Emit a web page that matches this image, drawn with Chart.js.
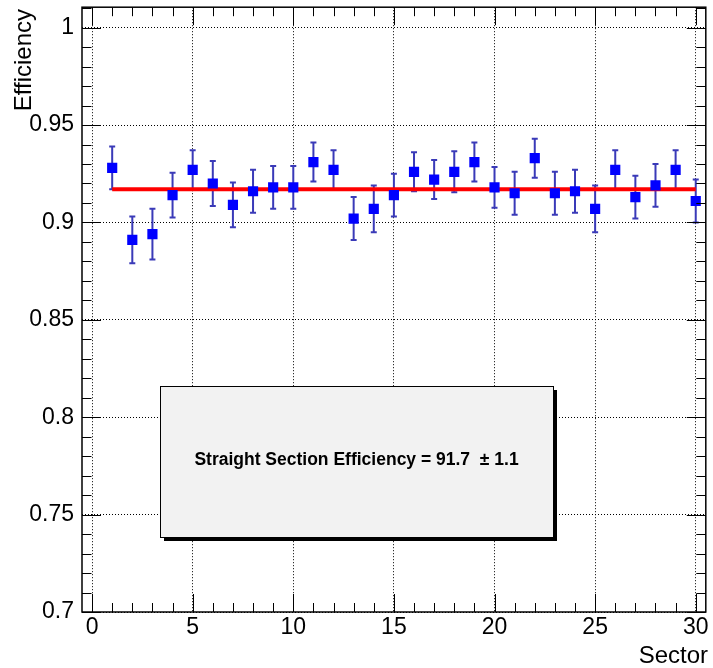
<!DOCTYPE html>
<html>
<head>
<meta charset="utf-8">
<script src="https://cdn.jsdelivr.net/npm/chart.js@4/dist/chart.umd.min.js"></script>
<style>
  body { margin: 0; background: #fff; }
  canvas { display: block; }
</style>
</head>
<body>
<canvas id="chart1" width="713" height="668"></canvas>
<script>
// data
var sectors = [1, 2, 3, 4, 5, 6, 7, 8, 9, 10, 11, 12, 13, 14, 15,
               16, 17, 18, 19, 20, 21, 22, 23, 24, 25, 26, 27, 28, 29, 30];
var efficiency = [0.928, 0.891, 0.894, 0.914, 0.927, 0.920, 0.909, 0.916, 0.918, 0.918,
                  0.931, 0.927, 0.902, 0.907, 0.914, 0.926, 0.922, 0.926, 0.931, 0.918,
                  0.915, 0.933, 0.915, 0.916, 0.907, 0.927, 0.913, 0.919, 0.927, 0.911];
var efficiencyErr = [0.011, 0.012, 0.013, 0.0115, 0.010, 0.0115, 0.0115, 0.011, 0.011, 0.011,
                     0.010, 0.010, 0.011, 0.012, 0.011, 0.010, 0.010, 0.0105, 0.010, 0.0105,
                     0.011, 0.010, 0.011, 0.011, 0.012, 0.010, 0.011, 0.011, 0.010, 0.011];
var fitRange = [1, 30];
var fitValue = 0.917;
var xTicks = [0, 5, 10, 15, 20, 25, 30];
var yTicks = [0.7, 0.75, 0.8, 0.85, 0.9, 0.95, 1];
var boxText = 'Straight Section Efficiency = 91.7  \u00b1 1.1';

var points = sectors.map(function(s, i) { return {x: s, y: efficiency[i]}; });
var fitLine = fitRange.map(function(s) { return {x: s, y: fitValue}; });

var tickFont = {family: 'Liberation Sans', size: 23};

// error bars under the markers
var errorBars = {
    id: 'errorBars',
    beforeDatasetsDraw: function(chart) {
        var ctx = chart.ctx, xs = chart.scales.x, ys = chart.scales.y;
        ctx.save();
        ctx.strokeStyle = '#3a3ab8';
        ctx.lineWidth = 2;
        points.forEach(function(p, i) {
            var px = xs.getPixelForValue(p.x);
            var top = ys.getPixelForValue(p.y + efficiencyErr[i]);
            var bot = ys.getPixelForValue(p.y - efficiencyErr[i]);
            ctx.beginPath();
            ctx.moveTo(px, top); ctx.lineTo(px, bot);
            ctx.moveTo(px - 3, top); ctx.lineTo(px + 3, top);
            ctx.moveTo(px - 3, bot); ctx.lineTo(px + 3, bot);
            ctx.stroke();
        });
        ctx.restore();
    }
};

// ROOT style frame, inside ticks, box and axis titles
var rootFrame = {
    id: 'rootFrame',
    afterDraw: function(chart) {
        var ctx = chart.ctx, a = chart.chartArea, xs = chart.scales.x, ys = chart.scales.y;
        ctx.save();

        // text box with shadow
        var bx = 160, by = 386, bw = 393, bh = 151;
        ctx.fillStyle = '#000';
        ctx.fillRect(bx + 4, by + 4, bw, bh);
        ctx.fillStyle = '#f2f2f2';
        ctx.fillRect(bx, by, bw, bh);
        ctx.strokeStyle = '#000';
        ctx.lineWidth = 1;
        ctx.strokeRect(bx + 0.5, by + 0.5, bw, bh);
        ctx.fillStyle = '#000';
        ctx.font = 'bold 17.5px "Liberation Sans"';
        ctx.textAlign = 'center';
        ctx.textBaseline = 'middle';
        ctx.fillText(boxText, bx + bw / 2, by + bh / 2 - 1);

        // ticks
        ctx.strokeStyle = '#000';
        ctx.lineWidth = 1;
        ctx.beginPath();
        for (var i = 0; i <= 30; i++) {
            var px = Math.round(xs.getPixelForValue(i)) + 0.5;
            var len = (i % 5 === 0) ? 18 : 9;
            ctx.moveTo(px, a.bottom); ctx.lineTo(px, a.bottom - len);
            ctx.moveTo(px, a.top); ctx.lineTo(px, a.top + len);
        }
        for (var j = 70; j <= 101; j++) {
            var py = Math.round(ys.getPixelForValue(j / 100)) + 0.5;
            var ylen = (j % 5 === 0) ? 19 : 9.5;
            ctx.moveTo(a.left, py); ctx.lineTo(a.left + ylen, py);
            ctx.moveTo(a.right, py); ctx.lineTo(a.right - ylen, py);
        }
        ctx.stroke();

        // frame
        ctx.lineWidth = 1.5;
        ctx.strokeRect(a.left, a.top, a.right - a.left, a.bottom - a.top);

        // axis titles
        ctx.font = '24px "Liberation Sans"';
        ctx.textAlign = 'right';
        ctx.textBaseline = 'alphabetic';
        ctx.fillText('Sector', 708, 663);
        ctx.translate(31, 9);
        ctx.rotate(-Math.PI / 2);
        ctx.fillText('Efficiency', 0, 0);
        ctx.restore();
    }
};

function noPad(scale) {
    scale.paddingTop = 0;
    scale.paddingBottom = 0;
    scale.paddingLeft = 0;
    scale.paddingRight = 0;
}

var ctx = document.getElementById('chart1').getContext('2d');

var myChart = new Chart(ctx, {
    type: 'scatter',
    data: {
        datasets: [{
            label: 'Efficiency',
            data: points,
            pointStyle: 'rect',
            pointRadius: 7.2,
            pointHoverRadius: 7.2,
            backgroundColor: '#0000ff',
            borderWidth: 0
        }, {
            type: 'line',
            label: 'Fit',
            data: fitLine,
            borderColor: '#ff0000',
            borderWidth: 4,
            pointRadius: 0,
            fill: false
        }]
    },
    options: {
        responsive: false,
        animation: false,
        layout: {
            padding: {top: 7, right: 4, left: 0, bottom: 0}
        },
        scales: {
            x: {
                type: 'linear',
                min: -0.5,
                max: 30.5,
                afterFit: function(scale) { scale.height = 56; noPad(scale); },
                afterBuildTicks: function(scale) {
                    scale.ticks = xTicks.map(function(v) { return {value: v}; });
                },
                grid: {
                    color: '#000',
                    lineWidth: 1,
                    drawTicks: false
                },
                border: {display: false, dash: [1, 2]},
                ticks: {
                    color: '#000',
                    font: tickFont,
                    padding: 2,
                    maxRotation: 0,
                    callback: function(v) { return String(v); }
                }
            },
            y: {
                type: 'linear',
                min: 0.7,
                max: 1.0105,
                afterFit: function(scale) { scale.width = 82; noPad(scale); },
                afterBuildTicks: function(scale) {
                    scale.ticks = yTicks.map(function(v) { return {value: v}; });
                },
                grid: {
                    color: '#000',
                    lineWidth: 1,
                    drawTicks: false
                },
                border: {display: false, dash: [1, 2]},
                ticks: {
                    color: '#000',
                    font: tickFont,
                    padding: 8,
                    callback: function(v) { return String(+v.toFixed(2)); }
                }
            }
        },
        plugins: {
            legend: {
                display: false
            },
            tooltip: {
                enabled: false
            }
        }
    },
    plugins: [errorBars, rootFrame]
});
</script>
</body>
</html>
